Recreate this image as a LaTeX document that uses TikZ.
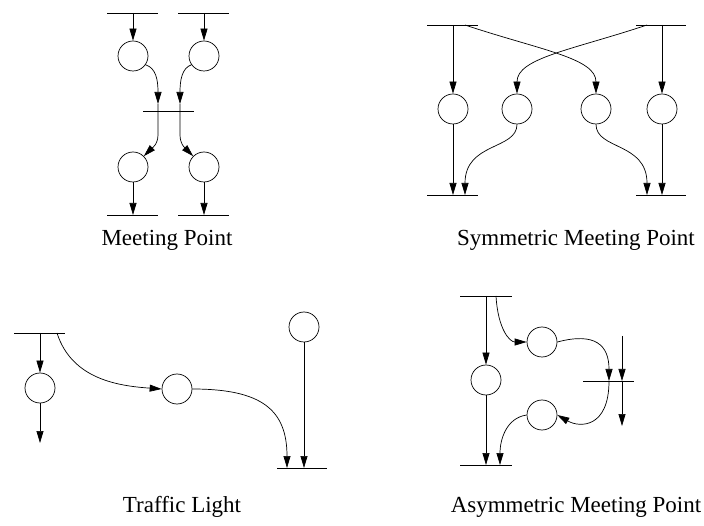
\documentclass[tikz,border=0pt]{standalone}
\usepackage{fontspec}
\setmainfont{Liberation Serif}
\usetikzlibrary{arrows.meta}
\begin{document}
\begin{tikzpicture}[x=1pt,y=-1pt,
  place/.style={circle,draw,line width=0.7pt,minimum size=30pt,inner sep=0pt},
  bar/.style={line width=0.7pt},
  arc/.style={line width=0.7pt,-{Triangle[length=12pt,width=7pt]}},
  plain/.style={line width=0.7pt},
  lab/.style={font=\fontsize{23}{28}\selectfont}]
\useasboundingbox (0,0) rectangle (704,526);

% ---------- Meeting Point ----------
\node[place] (m1) at (133,56) {};
\node[place] (m2) at (204,56) {};
\node[place] (m3) at (133,167) {};
\node[place] (m4) at (204,167) {};
\coordinate (mtl1) at (107,13); \coordinate (mtl2) at (158,13); \coordinate (mtlc) at (133,13);
\coordinate (mtr1) at (178,13); \coordinate (mtr2) at (229,13); \coordinate (mtrc) at (204,13);
\coordinate (mml) at (143,111); \coordinate (mmr) at (194,111);
\coordinate (mbl1) at (107,215); \coordinate (mbl2) at (158,215); \coordinate (mblc) at (133,215);
\coordinate (mbr1) at (178,215); \coordinate (mbr2) at (229,215); \coordinate (mbrc) at (204,215);
\coordinate (mxa) at (158,104); \coordinate (mxb) at (180,104);
\draw[bar] (mtl1) -- (mtl2); \draw[bar] (mtr1) -- (mtr2);
\draw[bar] (mml) -- (mmr);
\draw[bar] (mbl1) -- (mbl2); \draw[bar] (mbr1) -- (mbr2);
\draw[arc] (mtlc) -- (m1);
\draw[arc] (mtrc) -- (m2);
\draw[arc] (m1.-35) .. controls (156,68) and (158,80) .. (mxa);
\draw[arc] (m2.215) .. controls (182,68) and (180,80) .. (mxb);
\draw[arc] (mxa) -- (158,135) to[out=-90,in=45] (m3.45);
\draw[arc] (mxb) -- (180,135) to[out=-90,in=135] (m4.135);
\draw[arc] (m3) -- (mblc);
\draw[arc] (m4) -- (mbrc);
\node[lab] (lm) at (167,240) {Meeting Point};

% ---------- Symmetric Meeting Point ----------
\node[place] (s1) at (453,109) {};
\node[place] (s2) at (517,109) {};
\node[place] (s3) at (596,109) {};
\node[place] (s4) at (662,109) {};
\coordinate (stl1) at (427,25); \coordinate (stl2) at (478,25);
\coordinate (str1) at (636,25); \coordinate (str2) at (686,25);
\coordinate (sbl1) at (427,195); \coordinate (sbl2) at (478,195);
\coordinate (sbr1) at (636,195); \coordinate (sbr2) at (686,195);
\draw[bar] (stl1) -- (stl2); \draw[bar] (str1) -- (str2);
\draw[bar] (sbl1) -- (sbl2); \draw[bar] (sbr1) -- (sbr2);
\draw[arc] (453,25) -- (s1);
\draw[arc] (s1) -- (453,195);
\draw[arc] (662,25) -- (s4);
\draw[arc] (s4) -- (662,195);
\draw[arc] (465,25) .. controls (540,50) and (596,58) .. (s3.north);
\draw[arc] (647,25) .. controls (572,50) and (517,58) .. (s2.north);
\draw[arc] (s2.south) .. controls (517,150) and (465,142) .. (465,195);
\draw[arc] (s3.south) .. controls (596,150) and (647,142) .. (647,195);
\node[lab] (ls) at (576,240) {Symmetric Meeting Point};

% ---------- Traffic Light ----------
\node[place] (t1) at (40,388) {};
\node[place] (t2) at (177,389) {};
\node[place] (t3) at (304,327) {};
\coordinate (tt1) at (14,333); \coordinate (tt2) at (65,333);
\coordinate (tb1) at (277,468); \coordinate (tb2) at (327,468);
\coordinate (tend) at (40,443);
\draw[bar] (tt1) -- (tt2);
\draw[bar] (tb1) -- (tb2);
\draw[arc] (40,333) -- (t1);
\draw[arc] (t1) -- (tend);
\draw[arc] (57,333) .. controls (72,380) and (120,386) .. (t2.west);
\draw[arc] (t2.east) .. controls (262,389) and (287,410) .. (287,468);
\draw[arc] (t3) -- (304,468);
\node[lab] (lt) at (182,507) {Traffic Light};

% ---------- Asymmetric Meeting Point ----------
\node[place] (a1) at (486,380) {};
\node[place] (a2) at (542,342) {};
\node[place] (a3) at (542,415) {};
\coordinate (at1) at (460,296); \coordinate (at2) at (512,296);
\coordinate (ab1) at (460,465); \coordinate (ab2) at (512,465);
\coordinate (am1) at (583,381); \coordinate (am2) at (634,381);
\coordinate (ax) at (609,381);
\coordinate (av1) at (622,336); \coordinate (av2) at (622,381); \coordinate (av3) at (622,426);
\draw[bar] (at1) -- (at2);
\draw[bar] (ab1) -- (ab2);
\draw[bar] (am1) -- (am2);
\draw[arc] (486,296) -- (a1);
\draw[arc] (a1) -- (486,465);
\draw[arc] (496,296) .. controls (498,330) and (510,342) .. (a2.west);
\draw[arc] (a2.east) .. controls (595,332) and (609,345) .. (ax);
\draw[arc] (ax) .. controls (609,428) and (580,428) .. (a3.east);
\draw[arc] (a3.west) .. controls (506,418) and (500,440) .. (500,465);
\draw[arc] (av1) -- (av2);
\draw[arc] (av2) -- (av3);
\node[lab] (la) at (576,507) {Asymmetric Meeting Point};
\end{tikzpicture}
\end{document}
